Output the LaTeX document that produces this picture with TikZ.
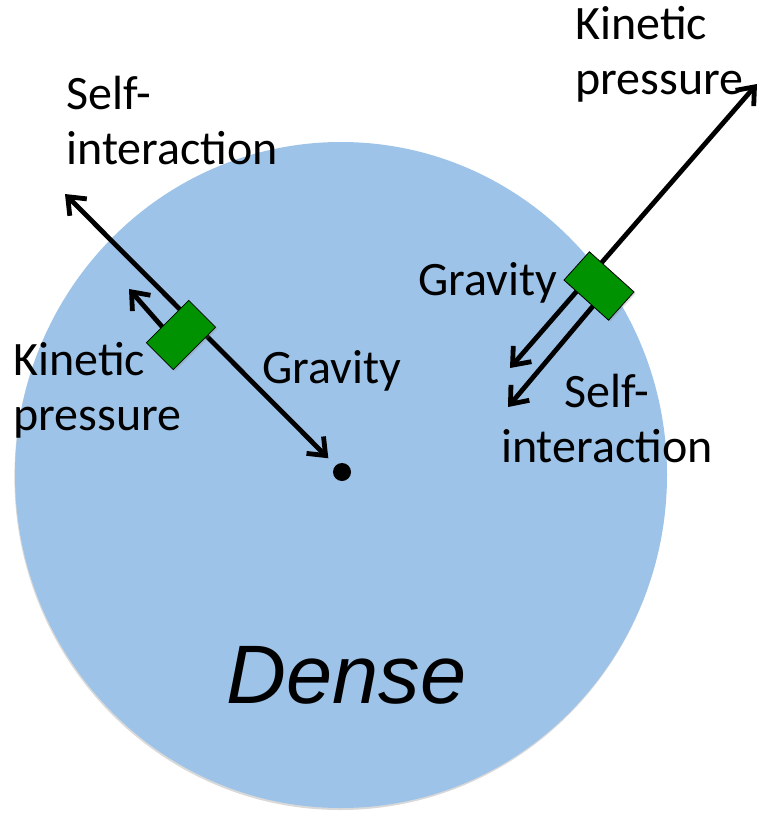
\documentclass[tikz,border=0pt]{standalone}
\usepackage{fontspec}
\setmainfont{Carlito}
\newfontfamily\arialfont{Liberation Sans}
\usetikzlibrary{arrows.meta, shadows}
\definecolor{halo}{RGB}{158,195,232}
\definecolor{parcel}{RGB}{0,146,0}

\begin{document}
\begin{tikzpicture}[
		x=0.5pt, y=-0.5pt,
		lbl/.style={anchor=base west, inner sep=0pt, align=left, font=\fontsize{24}{27.5}\selectfont},
		force/.style={line width=2.4pt, draw=black},
		blob/.style={draw=black, line width=0.4pt, fill=parcel, minimum width=19pt, minimum height=30pt, inner sep=0pt,
			drop shadow={shadow xshift=0.8pt, shadow yshift=-0.8pt, opacity=0.25}},
		>={Straight Barb[length=7.5pt, width=12pt]}
		]
		\useasboundingbox (0,0) rectangle (766,813);
		% Dense halo and its core
		\fill[halo, drop shadow={shadow xshift=-0.3pt, shadow yshift=-1pt, opacity=0.3}] (341,475) circle[x radius=326, y radius=333];
		\node[circle, fill=black, minimum size=9pt, inner sep=0pt] (core) at (342,472) {};
		\node[anchor=base west, inner sep=0pt, font=\arialfont\itshape\fontsize{41.5}{42}\selectfont] (dense) at (226,703) {Dense};
		
		% Free ends of the force arrows
		\coordinate (lsi) at (65,194);
		\coordinate (lkin0) at (165,330);
		\coordinate (lkin) at (129,289);
		\coordinate (rkin) at (757,84);
		\coordinate (rgrav) at (510,368);
		\coordinate (rsi0) at (604,293);
		\coordinate (rsi) at (508,407);
		
		% Forces on the inner parcel
		\draw[force, <->, shorten >=5pt] (lsi) -- (core);
		\draw[force, ->] (lkin0) -- (lkin);
		% Forces on the outer parcel
		\draw[force, <->] (rgrav) -- (rkin);
		\draw[force, ->] (rsi0) -- (rsi);
		
		% Fluid parcels
		\node[blob, rotate=-45] (lbox) at (181,335) {};
		\node[blob, rotate=48] (rbox) at (599,286) {};
		
		% Labels (base anchor sits on the last line)
		\node[lbl] (tlsi) at (66,164) {Self-\\interaction};
		\node[lbl] (lkinl) at (13,430) {Kinetic\\pressure};
		\node[lbl] (lgrav) at (262,383) {Gravity};
		\node[lbl] (trkin) at (575,95) {Kinetic\\pressure};
		\node[lbl] (rgravl) at (418,295) {Gravity};
		\node[lbl, anchor=base, align=center] (rsil) at (607,462) {Self-\\interaction};
	\end{tikzpicture}
\end{document}
